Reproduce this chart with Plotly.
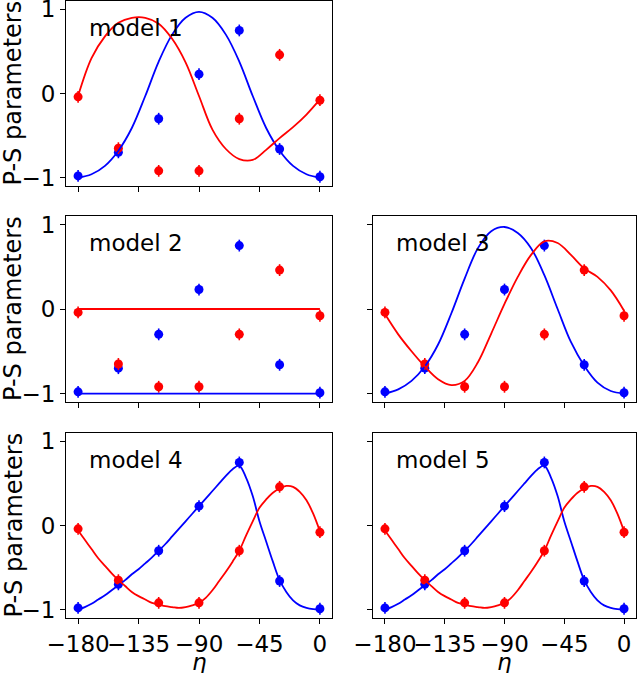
import plotly.graph_objects as go

# ---------------- data ----------------
eta_obs = [-180, -150, -120, -90, -60, -30, 0]
blue_obs = [-0.98, -0.70, -0.30, 0.23, 0.75, -0.66, -0.99]
red_obs = [-0.04, -0.65, -0.92, -0.92, -0.30, 0.46, -0.08]
obs_err = [0.07, 0.07, 0.07, 0.07, 0.07, 0.07, 0.07]

eta_fit10 = [-180, -170, -160, -150, -140, -130, -120, -110, -100, -90,
             -80, -70, -60, -50, -40, -30, -20, -10, 0]
blue_fit_m1 = [-1.0, -0.96, -0.86, -0.68, -0.41, -0.03, 0.38, 0.70, 0.90, 0.97,
               0.90, 0.70, 0.38, -0.03, -0.41, -0.68, -0.86, -0.96, -1.0]
red_fit_m1 = [-0.03, 0.42, 0.68, 0.84, 0.90, 0.90, 0.83, 0.65, 0.37, -0.03,
              -0.43, -0.66, -0.78, -0.79, -0.67, -0.53, -0.40, -0.25, -0.07]

eta_fit_m2 = [-180, 0]
blue_fit_m2 = [-1.0, -1.0]
red_fit_m2 = [0.0, 0.0]

blue_fit_m3 = [-1.0, -0.95, -0.85, -0.68, -0.42, -0.05, 0.36, 0.72, 0.92, 0.97,
               0.90, 0.72, 0.40, 0.0, -0.39, -0.67, -0.87, -0.97, -1.0]
red_fit_m3 = [-0.06, -0.30, -0.50, -0.68, -0.83, -0.90, -0.85, -0.63, -0.29, 0.06,
              0.38, 0.64, 0.80, 0.78, 0.64, 0.48, 0.38, 0.22, -0.02]

eta_fit5 = [-180, -175, -170, -165, -160, -155, -150, -145, -140, -135, -130, -125,
            -120, -115, -110, -105, -100, -95, -90, -85, -80, -75, -70, -65,
            -60, -55, -50, -45, -40, -35, -30, -25, -20, -15, -10, -5, 0]
blue_fit_m4 = [-1.00, -0.97, -0.93, -0.88, -0.83, -0.77, -0.71, -0.65, -0.58, -0.52,
               -0.45, -0.38, -0.30, -0.22, -0.13, -0.04, 0.05, 0.14, 0.23, 0.32,
               0.41, 0.50, 0.59, 0.67, 0.71, 0.57, 0.35, 0.05, -0.19, -0.43,
               -0.65, -0.79, -0.89, -0.95, -0.98, -0.995, -1.00]
red_fit_m4 = [-0.06, -0.17, -0.28, -0.39, -0.48, -0.57, -0.65, -0.72, -0.79, -0.84,
              -0.88, -0.92, -0.94, -0.96, -0.97, -0.98, -0.97, -0.95, -0.92, -0.86,
              -0.77, -0.66, -0.55, -0.43, -0.30, -0.12, 0.05, 0.21, 0.31, 0.39,
              0.44, 0.47, 0.46, 0.40, 0.30, 0.14, -0.07]
blue_fit_m5 = blue_fit_m4
red_fit_m5 = red_fit_m4

model_names = ["model 1", "model 2", "model 3", "model 4", "model 5"]
x_ticks = [-180, -135, -90, -45, 0]
y_ticks = [-1, 0, 1]
y_title = "P-S parameters"
x_title = "<i>η</i>"

# ---------------- layout geometry ----------------
W, H = 640, 673
col_px = [(66, 332), (373, 636)]
row_px = [(1, 186), (216, 402), (433, 618)]
panels = [(0, 0), (1, 0), (1, 1), (2, 0), (2, 1)]  # (row, col)
fits = [
    (eta_fit10, blue_fit_m1, red_fit_m1),
    (eta_fit_m2, blue_fit_m2, red_fit_m2),
    (eta_fit10, blue_fit_m3, red_fit_m3),
    (eta_fit5, blue_fit_m4, red_fit_m4),
    (eta_fit5, blue_fit_m5, red_fit_m5),
]

BLUE = "#0000ff"
RED = "#ff0000"
FONT = "DejaVu Sans"
FS_TICK = 23
FS_LABEL = 24
FS_MODEL = 23

fig = go.Figure()
layout = dict(
    width=W, height=H, margin=dict(l=0, r=0, t=0, b=0, autoexpand=False),
    paper_bgcolor="white", plot_bgcolor="white", showlegend=False,
    font=dict(family=FONT, size=FS_TICK, color="black"),
)
annotations = []

for i, ((r, c), (ex, bf, rf)) in enumerate(zip(panels, fits)):
    n = "" if i == 0 else str(i + 1)
    xa, ya = "x" + n, "y" + n
    x0, x1 = col_px[c]
    y0, y1 = row_px[r]
    xdom = [x0 / W, x1 / W]
    ydom = [1 - y1 / H, 1 - y0 / H]

    for yobs, col in ((blue_obs, BLUE), (red_obs, RED)):
        fig.add_trace(go.Scatter(
            x=eta_obs, y=yobs, mode="markers", xaxis=xa, yaxis=ya,
            marker=dict(color=col, size=9),
            error_y=dict(type="data", array=obs_err, color=col, thickness=1.6, width=0),
        ))
    for yfit, col in ((bf, BLUE), (rf, RED)):
        fig.add_trace(go.Scatter(
            x=ex, y=yfit, mode="lines", xaxis=xa, yaxis=ya,
            line=dict(color=col, width=1.8, shape="spline", smoothing=1.0),
        ))

    common = dict(showline=True, mirror=True, linecolor="black", linewidth=1,
                  ticks="outside", ticklen=5, tickwidth=1, tickcolor="black",
                  showgrid=False, zeroline=False, tickangle=0, automargin=False,
                  tickfont=dict(family=FONT, size=FS_TICK, color="black"))
    layout["xaxis" + n] = dict(common, domain=xdom, anchor=ya, range=[-189, 9],
                               tickmode="array", tickvals=x_ticks,
                               showticklabels=(r == 2))
    layout["yaxis" + n] = dict(common, domain=ydom, anchor=xa, range=[-1.1, 1.1],
                               tickmode="array", tickvals=y_ticks,
                               showticklabels=(c == 0))

    annotations.append(dict(
        text=model_names[i], xref=xa + " domain", yref=ya + " domain",
        x=0.078, y=1 - 27 / 186, xanchor="left", yanchor="middle",
        showarrow=False, font=dict(family=FONT, size=FS_MODEL, color="black")))

    if c == 0:
        annotations.append(dict(
            text=y_title, xref="paper", yref="paper",
            x=13 / W, y=1 - (y0 + y1) / 2 / H, xanchor="center", yanchor="middle",
            textangle=-90, showarrow=False,
            font=dict(family=FONT, size=FS_LABEL, color="black")))
    if r == 2:
        annotations.append(dict(
            text=x_title, xref="paper", yref="paper",
            x=(x0 + x1) / 2 / W, y=0, xanchor="center", yanchor="bottom",
            yshift=-4, showarrow=False,
            font=dict(family=FONT, size=23, color="black")))

layout["annotations"] = annotations
fig.update_layout(**layout)
fig.write_html("out.html")
